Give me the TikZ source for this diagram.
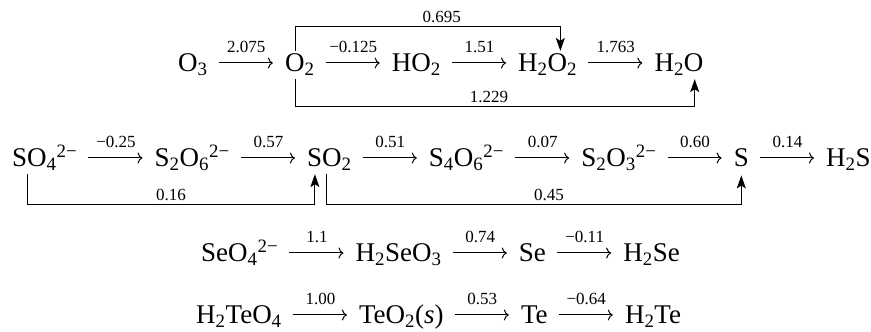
\documentclass[tikz,border=0pt]{standalone}
\usepackage{fontspec}
\setmainfont{Liberation Serif}
\usetikzlibrary{arrows.meta,positioning}
\tikzset{
  chem/.style={inner xsep=0pt,inner ysep=3pt,font=\fontsize{27}{30}\selectfont},
  rxn/.style={-{To[length=5pt,width=11pt]},line width=1pt,shorten <=11pt,shorten >=12pt},
  jump/.style={-{Stealth[length=13pt,width=9pt,inset=3pt]},line width=1pt},
  pot/.style={font=\fontsize{17}{17}\selectfont,inner sep=0pt,above=10pt}
}

\begin{document}
\begin{tikzpicture}[x=1pt,y=1pt]
  \useasboundingbox (0,0) rectangle (871,332);
  % oxygen
  \node[chem,anchor=base west] (Othree) at (178,260) {O\textsubscript{3}};
  \node[chem,base right=77pt of Othree] (Otwo) {O\textsubscript{2}};
  \node[chem,base right=77pt of Otwo] (HOtwo) {HO\textsubscript{2}};
  \node[chem,base right=77pt of HOtwo] (HtwoOtwo) {H\textsubscript{2}O\textsubscript{2}};
  \node[chem,base right=77pt of HtwoOtwo] (HtwoO) {H\textsubscript{2}O};
  \draw[rxn] ([yshift=9pt]Othree.base east)-- node[pot]{2.075} ([yshift=9pt]Otwo.base west);
  \draw[rxn] ([yshift=9pt]Otwo.base east)-- node[pot]{−0.125} ([yshift=9pt]HOtwo.base west);
  \draw[rxn] ([yshift=9pt]HOtwo.base east)-- node[pot]{1.51} ([yshift=9pt]HtwoOtwo.base west);
  \draw[rxn] ([yshift=9pt]HtwoOtwo.base east)-- node[pot]{1.763} ([yshift=9pt]HtwoO.base west);
  \coordinate (topline) at (0,305);
  \coordinate (lowline) at (0,225);
  \coordinate (Oup) at ([xshift=11pt]Otwo.north west);
  \coordinate (Odown) at ([xshift=11pt]Otwo.south west);
  \draw[jump] (Oup)-- (Oup |- topline) -| node[pot,above=4pt,pos=0.276]{0.695} ([xshift=-17pt]HtwoOtwo.north east);
  \draw[jump] (Odown)-- (Odown |- lowline) -| node[pot,above=4pt,pos=0.242]{1.229} ([xshift=-9pt]HtwoO.south east);
  % sulfur
  \node[chem,anchor=base west] (SOfour) at (12,165) {SO\textsubscript{4}\textsuperscript{2−}};
  \node[chem,base right=77pt of SOfour] (StwoOsix) {S\textsubscript{2}O\textsubscript{6}\textsuperscript{2−}};
  \node[chem,base right=77pt of StwoOsix] (SOtwo) {SO\textsubscript{2}};
  \node[chem,base right=77pt of SOtwo] (SfourOsix) {S\textsubscript{4}O\textsubscript{6}\textsuperscript{2−}};
  \node[chem,base right=77pt of SfourOsix] (StwoOthree) {S\textsubscript{2}O\textsubscript{3}\textsuperscript{2−}};
  \node[chem,base right=77pt of StwoOthree] (S) {S};
  \node[chem,base right=77pt of S] (HtwoS) {H\textsubscript{2}S};
  \draw[rxn] ([yshift=9pt]SOfour.base east)-- node[pot]{−0.25} ([yshift=9pt]StwoOsix.base west);
  \draw[rxn] ([yshift=9pt]StwoOsix.base east)-- node[pot]{0.57} ([yshift=9pt]SOtwo.base west);
  \draw[rxn] ([yshift=9pt]SOtwo.base east)-- node[pot]{0.51} ([yshift=9pt]SfourOsix.base west);
  \draw[rxn] ([yshift=9pt]SfourOsix.base east)-- node[pot]{0.07} ([yshift=9pt]StwoOthree.base west);
  \draw[rxn] ([yshift=9pt]StwoOthree.base east)-- node[pot]{0.60} ([yshift=9pt]S.base west);
  \draw[rxn] ([yshift=9pt]S.base east)-- node[pot]{0.14} ([yshift=9pt]HtwoS.base west);
  \coordinate (sline) at (0,127);
  \coordinate (SOdown) at ([xshift=15pt]SOfour.south west);
  \coordinate (SOtwodown) at ([xshift=20pt]SOtwo.south west);
  \draw[jump] (SOdown)-- (SOdown |- sline) -| node[pot,above=4pt,pos=0.25]{0.16} ([xshift=8pt]SOtwo.south west);
  \draw[jump] (SOtwodown)-- (SOtwodown |- sline) -| node[pot,above=4pt,pos=0.268]{0.45} ([yshift=-5pt]S.south);
  % selenium
  \node[chem,anchor=base west] (SeOfour) at (201,70) {SeO\textsubscript{4}\textsuperscript{2−}};
  \node[chem,base right=77pt of SeOfour] (HtwoSeOthree) {H\textsubscript{2}SeO\textsubscript{3}};
  \node[chem,base right=77pt of HtwoSeOthree] (Se) {Se};
  \node[chem,base right=77pt of Se] (HtwoSe) {H\textsubscript{2}Se};
  \draw[rxn] ([yshift=9pt]SeOfour.base east)-- node[pot]{1.1} ([yshift=9pt]HtwoSeOthree.base west);
  \draw[rxn] ([yshift=9pt]HtwoSeOthree.base east)-- node[pot]{0.74} ([yshift=9pt]Se.base west);
  \draw[rxn] ([yshift=9pt]Se.base east)-- node[pot]{−0.11} ([yshift=9pt]HtwoSe.base west);
  % tellurium
  \node[chem,anchor=base west] (HtwoTeOfour) at (196,8) {H\textsubscript{2}TeO\textsubscript{4}};
  \node[chem,base right=77pt of HtwoTeOfour] (TeOtwo) {TeO\textsubscript{2}(\textit{s})};
  \node[chem,base right=77pt of TeOtwo] (Te) {Te};
  \node[chem,base right=77pt of Te] (HtwoTe) {H\textsubscript{2}Te};
  \draw[rxn] ([yshift=9pt]HtwoTeOfour.base east)-- node[pot]{1.00} ([yshift=9pt]TeOtwo.base west);
  \draw[rxn] ([yshift=9pt]TeOtwo.base east)-- node[pot]{0.53} ([yshift=9pt]Te.base west);
  \draw[rxn] ([yshift=9pt]Te.base east)-- node[pot]{−0.64} ([yshift=9pt]HtwoTe.base west);
\end{tikzpicture}
\end{document}
